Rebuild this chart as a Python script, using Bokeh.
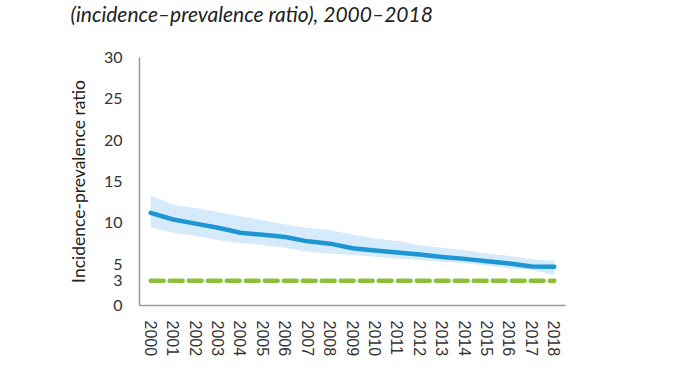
from bokeh.plotting import figure
from bokeh.models import FixedTicker, Range1d, FactorRange
from bokeh.embed import file_html
from bokeh.resources import INLINE

years = [str(y) for y in range(2000, 2019)]
ratio = [11.2, 10.4, 9.9, 9.4, 8.8, 8.56, 8.28, 7.76, 7.48, 6.92, 6.64, 6.4, 6.16, 5.88, 5.64, 5.36, 5.08, 4.72, 4.68]
upper = [13.3, 12.2, 11.8, 11.3, 10.8, 10.3, 9.8, 9.4, 9.1, 8.6, 8.1, 7.8, 7.3, 7.0, 6.7, 6.3, 6.0, 5.6, 5.4]
lower = [9.4, 8.8, 8.4, 7.9, 7.56, 7.3, 7.0, 6.5, 6.3, 6.1, 5.9, 5.7, 5.5, 5.3, 5.1, 4.8, 4.5, 4.3, 3.7]
target = [3] * len(years)
y_ticks = [0, 3, 5, 10, 15, 20, 25, 30]
title_text = "(incidence\u2013prevalence ratio), 2000\u20132018"
y_label = "Incidence-prevalence ratio"

p = figure(width=675, height=375, x_range=FactorRange(factors=years), y_range=Range1d(0, 30),
           output_backend="svg", toolbar_location=None, title=title_text + "\n ",
           min_border_left=139, min_border_right=110, min_border_top=55, min_border_bottom=70)
p.outline_line_color = None
p.background_fill_color = "white"
p.border_fill_color = "white"
p.xgrid.grid_line_color = None
p.ygrid.grid_line_color = None

p.title.text_font = "Lato"
p.title.text_font_style = "italic"
p.title.text_font_size = "21px"
p.title.text_color = "#222222"
p.title.align = "left"
p.title.offset = 70 - 139
p.title.vertical_align = "top"
p.title.text_line_height = 1.2
p.title.standoff = 0

p.varea(x=years, y1=lower, y2=upper, fill_color="#d5eafa", fill_alpha=1)
p.line(x=years, y=ratio, line_color="#1e96d4", line_width=4.5, line_join="round", line_cap="round")
p.line(x=years, y=target, line_color="#8cc03c", line_width=4.5, line_dash="13 6", line_cap="round")

for ax in (p.xaxis[0], p.yaxis[0]):
    ax.axis_line_color = "#9a9a9a"
    ax.axis_line_width = 1.5
    ax.major_tick_line_color = None
    ax.minor_tick_line_color = None
    ax.major_label_text_color = "#333333"

p.yaxis.ticker = FixedTicker(ticks=y_ticks)
p.yaxis.major_label_text_font = "Lato"
p.yaxis.major_label_text_font_size = "16px"
p.yaxis.major_label_standoff = 11
p.yaxis.axis_label = y_label
p.yaxis.axis_label_text_font = "Lato"
p.yaxis.axis_label_text_font_style = "normal"
p.yaxis.axis_label_text_font_size = "17.5px"
p.yaxis.axis_label_text_color = "#222222"
p.yaxis.axis_label_standoff = 12

p.xaxis.major_label_orientation = "vertical"
p.xaxis.major_label_text_font = "Liberation Sans"
p.xaxis.major_label_text_font_size = "16px"
p.xaxis.major_label_standoff = 9

open("out.html", "w").write(file_html(p, INLINE))
